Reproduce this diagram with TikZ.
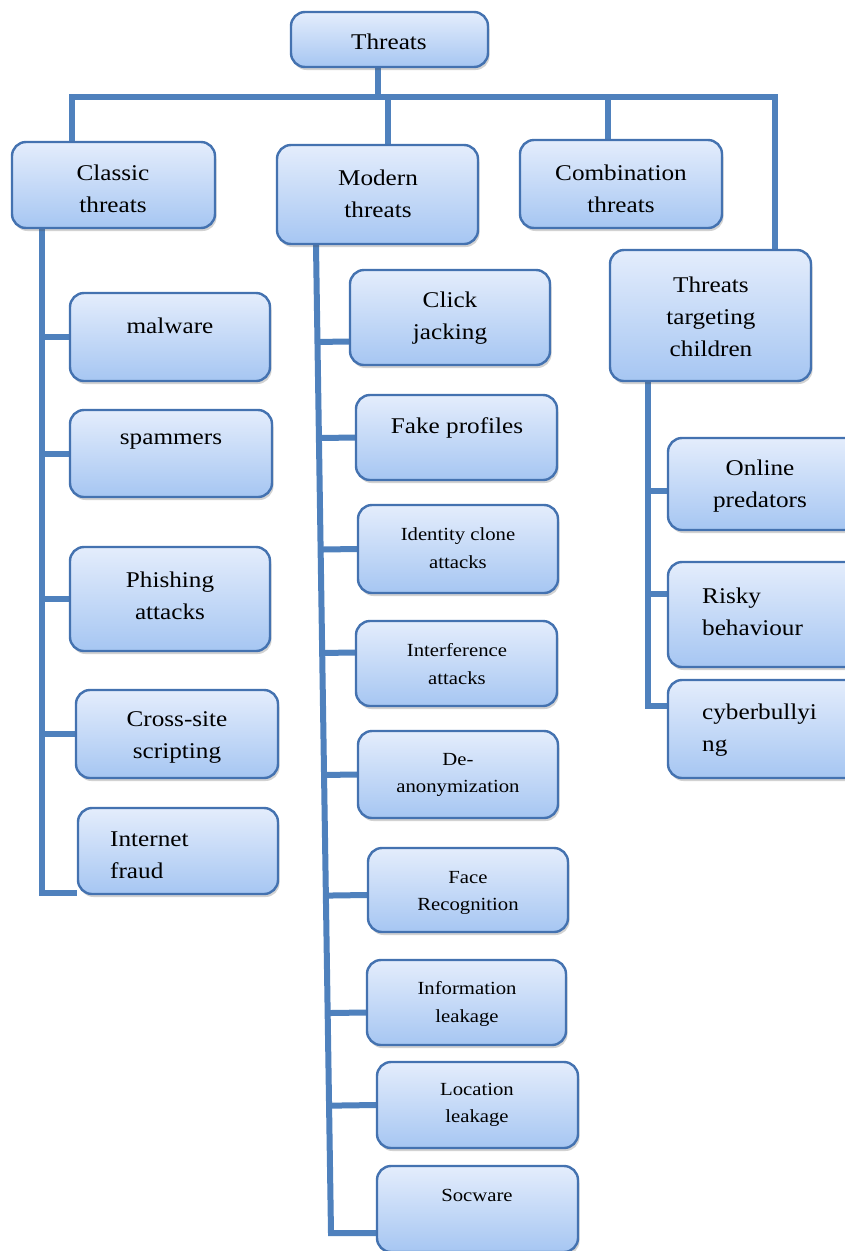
\documentclass[tikz,border=0pt]{standalone}
\usepackage{fontspec}
\setmainfont{Liberation Serif}[FakeStretch=1.12]
\usetikzlibrary{calc,shadows}
\pgfdeclarelayer{background}
\pgfsetlayers{background,main}
\definecolor{linec}{RGB}{79,129,189}
\definecolor{boxc}{RGB}{68,114,176}
\definecolor{topc}{RGB}{228,237,252}
\definecolor{botc}{RGB}{166,198,242}
\newcommand\bigtxt{\fontsize{22.5}{32}\selectfont}
\newcommand\smalltxt{\fontsize{18.5}{27.5}\selectfont}
\tikzset{
  box/.style={draw=boxc, line width=2.4pt, rounded corners=14pt, inner sep=0pt,
    top color=topc, bottom color=botc,
    drop shadow={shadow xshift=1.5pt, shadow yshift=-3pt, opacity=0.25, fill=black!70}},
  lbl/.style={font=\bigtxt, align=center, inner sep=0pt, text=black},
  slbl/.style={font=\smalltxt, align=center, inner sep=0pt, text=black},
  llbl/.style={font=\bigtxt, align=left, inner sep=0pt, anchor=west, text=black},
  link/.style={draw=linec, line width=6pt}
}
\begin{document}
\begin{tikzpicture}[x=1pt,y=-1pt]
\useasboundingbox (0,0) rectangle (844,1251);
\begin{pgfonlayer}{background}
\fill[white] (0,0) rectangle (844,1251);
\end{pgfonlayer}
% boxes
\node[box, minimum width=197, minimum height=55] (thr) at (389.5,39.5) {};
\node[box, minimum width=203, minimum height=86] (cla) at (113.5,185) {};
\node[box, minimum width=201, minimum height=99] (mod) at (377.5,194.5) {};
\node[box, minimum width=202, minimum height=88] (com) at (621,184) {};
\node[box, minimum width=201, minimum height=131] (chi) at (710.5,315.5) {};
\node[box, minimum width=200, minimum height=88] (mal) at (170,337) {};
\node[box, minimum width=202, minimum height=87] (spa) at (171,453.5) {};
\node[box, minimum width=200, minimum height=104] (phi) at (170,599) {};
\node[box, minimum width=202, minimum height=88] (xss) at (177,734) {};
\node[box, minimum width=200, minimum height=86] (fra) at (178,851) {};
\node[box, minimum width=200, minimum height=95] (clk) at (450,317.5) {};
\node[box, minimum width=201, minimum height=85] (fak) at (456.5,437.5) {};
\node[box, minimum width=200, minimum height=88] (idc) at (458,549) {};
\node[box, minimum width=201, minimum height=85] (itf) at (456.5,663.5) {};
\node[box, minimum width=200, minimum height=87] (dea) at (458,774.5) {};
\node[box, minimum width=200, minimum height=84] (fac) at (468,890) {};
\node[box, minimum width=199, minimum height=85] (inf) at (466.5,1002.5) {};
\node[box, minimum width=201, minimum height=86] (loc) at (477.5,1105) {};
\node[box, minimum width=201, minimum height=86] (soc) at (477.5,1209) {};
\node[box, minimum width=202, minimum height=92] (onl) at (769,484) {};
\node[box, minimum width=202, minimum height=105] (rsk) at (769,614.5) {};
\node[box, minimum width=202, minimum height=98] (cyb) at (769,729) {};
% texts
\node[lbl] (thrT) at (389,42) {Threats};
\node[lbl] (claT) at (113,189) {Classic\\threats};
\node[lbl] (modT) at (378,194) {Modern\\threats};
\node[lbl] (comT) at (621,189) {Combination\\threats};
\node[lbl] (chiT) at (711,317) {Threats\\targeting\\children};
\node[lbl] (malT) at (170,326) {malware};
\node[lbl] (spaT) at (171,442) {spammers};
\node[lbl] (phiT) at (170,596) {Phishing\\attacks};
\node[lbl] (xssT) at (177,737) {Cross-site\\scripting};
\node[llbl] (fraT) at (110,855) {Internet\\fraud};
\node[lbl] (clkT) at (450,318) {Click\\jacking};
\node[lbl] (fakT) at (457,428) {Fake profiles};
\node[slbl] (idcT) at (458,548) {Identity clone\\attacks};
\node[slbl] (itfT) at (457,664) {Interference\\attacks};
\node[slbl] (deaT) at (458,775) {De-\\anonymization};
\node[slbl] (facT) at (468,893) {Face\\Recognition};
\node[slbl] (infT) at (467,1004) {Information\\leakage};
\node[slbl] (locT) at (477,1105) {Location\\leakage};
\node[slbl] (socT) at (477,1195) {Socware};
\node[lbl] (onlT) at (760,486) {Online\\predators};
\node[llbl] (rskT) at (702,612) {Risky\\behaviour};
\node[llbl] (cybT) at (702,730) {cyberbullyi\\ng};
% coordinates
\coordinate (busT) at (378,97);
\coordinate (busL) at (72,97);
\coordinate (busR) at (775,97);
\coordinate (busM) at (388,97);
\coordinate (busC) at (608,97);
\coordinate (cT) at (42,228);
\coordinate (cB) at (42,893);
\coordinate (mT) at (316,244);
\coordinate (mB) at (331,1233);
\coordinate (kT) at (648,381);
\coordinate (kB) at (648,706);
\coordinate (clkc) at ([yshift=-24pt]clk.west);
\coordinate (itfc) at ([yshift=11pt]itf.west);
\coordinate (facc) at ([yshift=-5pt]fac.west);
\coordinate (infc) at ([yshift=-10pt]inf.west);
\coordinate (onlc) at ([yshift=-7pt]onl.west);
\coordinate (rskc) at ([yshift=21pt]rsk.west);
\begin{pgfonlayer}{background}
\draw[link] (thr.south -| busT) -- (busT);
\draw[link] (cla.north -| busL) -- (busL) -- (busR) -- (chi.north -| busR);
\draw[link] (busM) -- (mod.north -| busM);
\draw[link] (busC) -- (com.north -| busC);
% classic
\draw[link] (cla.south -| cT) -- (cB) -- (fra.west |- cB);
\draw[link] (mal.west) -- (mal.west -| cT);
\draw[link] (spa.west) -- (spa.west -| cT);
\draw[link] (phi.west) -- (phi.west -| cT);
\draw[link] (xss.west) -- (xss.west -| cT);
% modern
\draw[link] (mod.south -| mT) -- (mB) -- (soc.west |- mB);
\draw[link] (clkc) -- ($(mT)!(clkc)!(mB)$);
\draw[link] (fak.west) -- ($(mT)!(fak.west)!(mB)$);
\draw[link] (idc.west) -- ($(mT)!(idc.west)!(mB)$);
\draw[link] (itfc) -- ($(mT)!(itfc)!(mB)$);
\draw[link] (dea.west) -- ($(mT)!(dea.west)!(mB)$);
\draw[link] (facc) -- ($(mT)!(facc)!(mB)$);
\draw[link] (infc) -- ($(mT)!(infc)!(mB)$);
\draw[link] (loc.west) -- ($(mT)!(loc.west)!(mB)$);
% children
\draw[link] (chi.south -| kT) -- (kB) -- (cyb.west |- kB);
\draw[link] (onlc) -- (onlc -| kT);
\draw[link] (rskc) -- (rskc -| kT);
\end{pgfonlayer}
\end{tikzpicture}
\end{document}
